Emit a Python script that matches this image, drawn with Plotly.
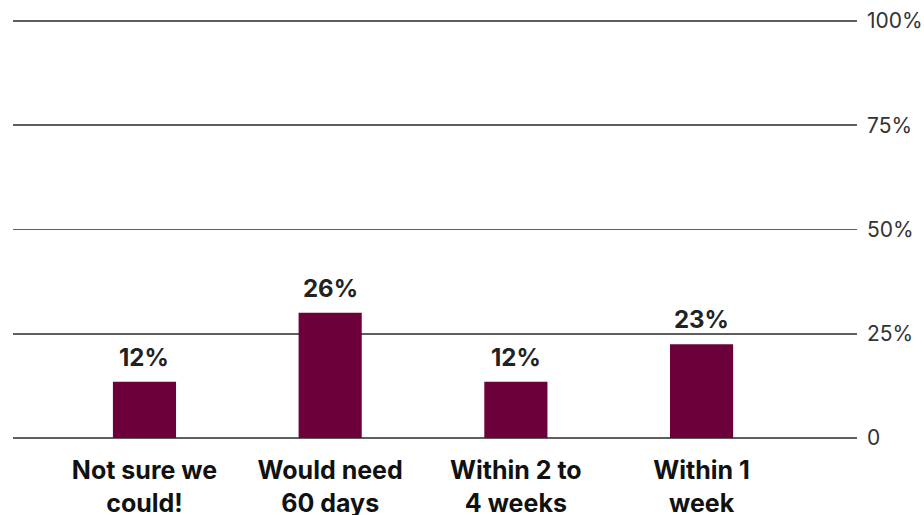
import plotly.graph_objects as go

categories = ["Not sure we<br>could!", "Would need<br>60 days", "Within 2 to<br>4 weeks", "Within 1<br>week"]
bar_heights = [13.5, 30.0, 13.5, 22.5]
bar_labels = ["12%", "26%", "12%", "23%"]
tick_vals = [0, 25, 50, 75, 100]
tick_text = ["0", "25%", "50%", "75%", "100%"]

W, H = 924, 515
fig = go.Figure(go.Bar(
    x=categories, y=bar_heights,
    marker=dict(color="#6b003a", line=dict(width=0)),
    width=0.34,
    hoverinfo="skip",
))
for cat, h, lab in zip(categories, bar_heights, bar_labels):
    fig.add_annotation(
        x=cat, y=h, text=lab, showarrow=False,
        xanchor="center", yanchor="bottom", yshift=8,
        font=dict(family="Inter", size=24, color="#222222", weight="bold"),
    )
fig.update_layout(
    width=W, height=H,
    margin=dict(l=13, r=67, t=19, b=75),
    plot_bgcolor="white", paper_bgcolor="white",
    showlegend=False,
    font=dict(family="Inter"),
)
fig.update_xaxes(
    type="category", range=[-0.708, 3.837], automargin=False,
    showgrid=False, zeroline=False, showline=False, ticks="",
    tickfont=dict(family="Inter", size=25, color="#111111", weight="bold"),
    ticklabelstandoff=13,
)
fig.update_yaxes(
    range=[-0.5, 100.5], side="right", automargin=False,
    tickvals=tick_vals, ticktext=tick_text,
    showgrid=True, gridcolor="#5e5e5e", gridwidth=1.6,
    zeroline=False, showline=False, ticks="",
    tickfont=dict(family="Inter", size=21, color="#333333"),
    ticklabelstandoff=9,
)
fig.write_html(
    "out.html",
    config={"displayModeBar": False, "staticPlot": True},
    post_script="document.body.style.margin='0';document.body.style.overflow='hidden';",
)
